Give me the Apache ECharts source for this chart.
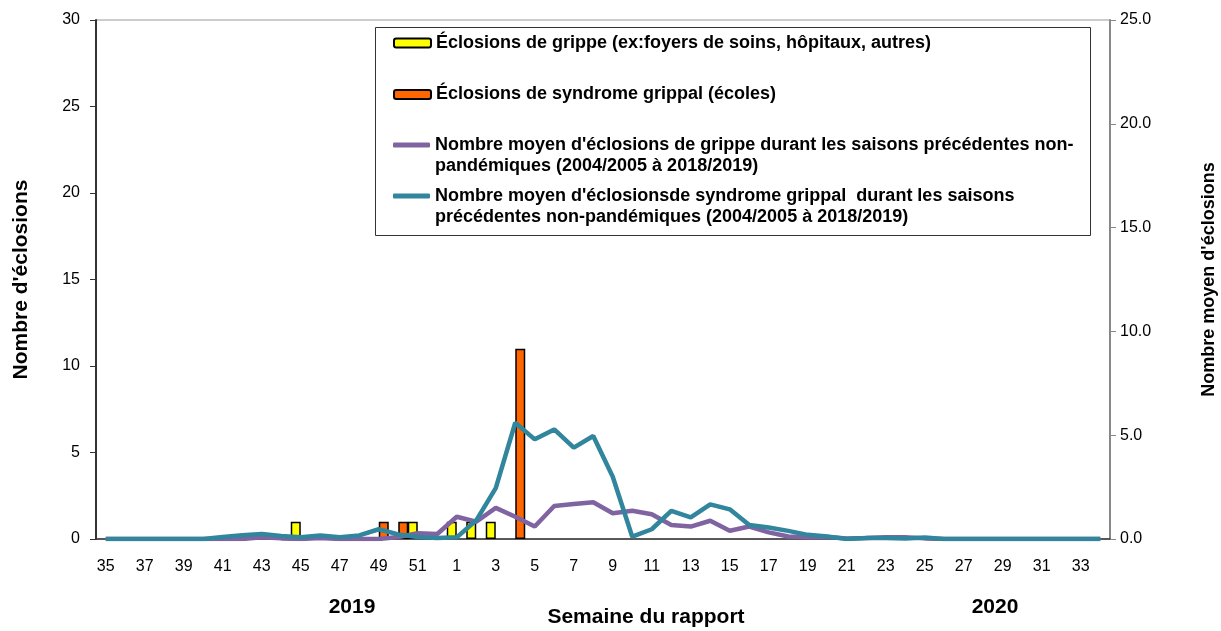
<!DOCTYPE html>
<html>
<head>
<meta charset="utf-8">
<script src="https://cdn.jsdelivr.net/npm/echarts@6/dist/echarts.min.js"></script>
<style>
  html, body { margin: 0; padding: 0; background: #fff; }
  #chart { width: 1221px; height: 631px; }
</style>
</head>
<body>
<div id="chart"></div>
<script>
// semaines du rapport : 35..52 (2019) puis 1..34 (2020)
var semaines = [35, 36, 37, 38, 39, 40, 41, 42, 43, 44, 45, 46, 47, 48, 49, 50, 51, 52,
  1, 2, 3, 4, 5, 6, 7, 8, 9, 10, 11, 12, 13, 14, 15, 16, 17, 18, 19, 20,
  21, 22, 23, 24, 25, 26, 27, 28, 29, 30, 31, 32, 33, 34];

// éclosions de grippe (foyers de soins, hôpitaux, autres)
var eclosionsGrippe = [null, null, null, null, null, null, null, null, null, null, 1, null, null, null, null, null, 1, null,
  1, 1, 1, null, null, null, null, null, null, null, null, null, null, null, null, null, null, null, null, null,
  null, null, null, null, null, null, null, null, null, null, null, null, null, null];

// éclosions de syndrome grippal (écoles)
var eclosionsSG = [null, null, null, null, null, null, null, null, null, null, null, null, null, null, 1, 1, null, null,
  null, null, null, 11, null, null, null, null, null, null, null, null, null, null, null, null, null, null, null, null,
  null, null, null, null, null, null, null, null, null, null, null, null, null, null];

// moyenne des saisons précédentes - grippe
var moyenneGrippe = [0, 0, 0, 0, 0, 0, 0, 0, 0.08, 0.03, 0, 0.05, 0, 0, 0, 0.1, 0.28, 0.24,
  1.07, 0.83, 1.5, 1.07, 0.6, 1.59, 1.69, 1.77, 1.24, 1.36, 1.19, 0.67, 0.6, 0.88, 0.4, 0.6, 0.32, 0.12, 0.08, 0.1,
  0.03, 0.05, 0.08, 0.08, 0.03, 0, 0, 0, 0, 0, 0, 0, 0, 0];

// moyenne des saisons précédentes - syndrome grippal
var moyenneSG = [0, 0, 0, 0, 0, 0, 0.1, 0.18, 0.24, 0.15, 0.08, 0.17, 0.08, 0.17, 0.47, 0.22, 0.1, 0.05,
  0.08, 0.9, 2.45, 5.6, 4.8, 5.28, 4.4, 4.96, 3.0, 0.11, 0.47, 1.36, 1.04, 1.67, 1.43, 0.67, 0.55, 0.39, 0.2, 0.12,
  0, 0.05, 0.05, 0.03, 0.07, 0, 0, 0, 0, 0, 0, 0, 0, 0];

var noms = [
  "Éclosions de grippe (ex:foyers de soins, hôpitaux, autres)",
  "Éclosions de syndrome grippal (écoles)",
  "Nombre moyen d'éclosions de grippe durant les saisons précédentes non-\npandémiques (2004/2005 à 2018/2019)",
  "Nombre moyen d'éclosionsde syndrome grippal  durant les saisons\nprécédentes non-pandémiques (2004/2005 à 2018/2019)"
];

var couleurs = ["#FFFF00", "#FF6600", "#8064A2", "#31859C"];

var police = "'Liberation Sans', Arial, sans-serif";

var chart = echarts.init(document.getElementById("chart"));

// une légende par élément pour placer chaque ligne comme dans l'original
function legende(i, top) {
  var ligne = i >= 2;
  return {
    data: [ligne ? { name: noms[i], icon: "roundRect", itemStyle: { color: couleurs[i] } } : noms[i]],
    left: 393,
    top: top,
    z: 10,
    padding: 0,
    orient: "vertical",
    itemWidth: 37,
    itemHeight: ligne ? 5 : 9,
    selectedMode: false,
    // ligne vide devant : l'icône s'aligne sur la première ligne du texte
    formatter: ligne ? function (name) { return "\n" + name; } : "{name}",
    textStyle: {
      fontFamily: police,
      fontWeight: "bold",
      fontSize: 18,
      color: "#000",
      lineHeight: 21
    }
  };
}

var option = {
  animation: false,
  grid: {
    left: 96,
    right: 111,
    top: 20,
    bottom: 92,
    outerBoundsMode: "none",
    containLabel: false,
    show: true,
    borderColor: "#999",
    borderWidth: 1
  },
  legend: [
    legende(0, 32.5),
    legende(1, 84),
    legende(2, 113.5),
    legende(3, 164.5)
  ],
  graphic: [
    {
      type: "rect",
      shape: { x: 375.5, y: 27.5, width: 715, height: 208 },
      style: { fill: "#fff", stroke: "#333", lineWidth: 1 },
      z: 1
    },
    {
      type: "text",
      x: 352, y: 607,
      style: { text: "2019", font: "bold 21px " + police, fill: "#000", align: "center", verticalAlign: "middle" }
    },
    {
      type: "text",
      x: 995, y: 607,
      style: { text: "2020", font: "bold 21px " + police, fill: "#000", align: "center", verticalAlign: "middle" }
    },
    {
      type: "text",
      x: 646, y: 617,
      style: { text: "Semaine du rapport", font: "bold 21px " + police, fill: "#000", align: "center", verticalAlign: "middle" }
    }
  ],
  xAxis: {
    type: "category",
    data: semaines,
    axisLine: { lineStyle: { color: "#333", width: 1.5 } },
    axisTick: { length: 5, lineStyle: { color: "#333" } },
    axisLabel: { interval: 1, fontFamily: police, fontSize: 16, color: "#000", margin: 20 }
  },
  yAxis: [
    {
      type: "value",
      min: 0, max: 30, interval: 5,
      name: "Nombre d'éclosions",
      nameLocation: "middle",
      nameGap: 64,
      nameTextStyle: { fontFamily: police, fontWeight: "bold", fontSize: 21, color: "#000" },
      axisLine: { show: true, lineStyle: { color: "#333", width: 2 } },
      axisTick: { show: true, length: 6, lineStyle: { color: "#333" } },
      axisLabel: { fontFamily: police, fontSize: 16, color: "#000", margin: 16 },
      splitLine: { show: false }
    },
    {
      type: "value",
      min: 0, max: 25, interval: 5,
      position: "right",
      name: "Nombre moyen d'éclosions",
      nameLocation: "middle",
      nameGap: 90,
      nameRotate: 90,
      nameTextStyle: { fontFamily: police, fontWeight: "bold", fontSize: 18, color: "#000" },
      axisLine: { show: true, lineStyle: { color: "#888", width: 2 } },
      axisTick: { show: true, length: 6, lineStyle: { color: "#888" } },
      axisLabel: {
        fontFamily: police, fontSize: 16, color: "#000", margin: 10,
        formatter: function (v) { return v.toFixed(1); }
      },
      splitLine: { show: false }
    }
  ],
  series: [
    {
      name: noms[0],
      type: "bar",
      data: eclosionsGrippe,
      barWidth: 10,
      barGap: "0%",
      itemStyle: { color: couleurs[0], borderColor: "#000", borderWidth: 1.5 }
    },
    {
      name: noms[1],
      type: "bar",
      data: eclosionsSG,
      barWidth: 10,
      barGap: "0%",
      itemStyle: { color: couleurs[1], borderColor: "#000", borderWidth: 1.5 }
    },
    {
      name: noms[2],
      type: "line",
      yAxisIndex: 1,
      data: moyenneGrippe,
      symbol: "none",
      lineStyle: { color: couleurs[2], width: 4.5 },
      itemStyle: { color: couleurs[2] }
    },
    {
      name: noms[3],
      type: "line",
      yAxisIndex: 1,
      data: moyenneSG,
      symbol: "none",
      lineStyle: { color: couleurs[3], width: 4.5 },
      itemStyle: { color: couleurs[3] }
    }
  ]
};

chart.setOption(option);
</script>
</body>
</html>
